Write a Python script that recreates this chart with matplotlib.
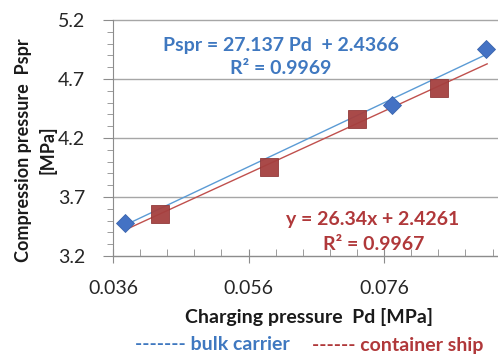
import matplotlib.pyplot as plt
import numpy as np

plt.rcParams['font.family'] = ['Lato', 'DejaVu Sans']

# bulk carrier (blue diamonds)
bulk_pd = np.array([0.0378, 0.0771, 0.0911])
bulk_pspr = np.array([3.477, 4.478, 4.952])

# container ship (red squares)
cont_pd = np.array([0.0429, 0.0590, 0.0720, 0.0841])
cont_pspr = np.array([3.560, 3.954, 4.361, 4.624])

# trendline coefficients from the chart
bulk_fit = (27.137, 2.4366)
cont_fit = (26.34, 2.4261)
trend_range = [0.0378, 0.0912]

x_ticks = [0.036, 0.056, 0.076]
x_minor = np.arange(0.036, 0.0930, 0.004)
y_ticks = [3.2, 3.7, 4.2, 4.7, 5.2]
y_minor = np.arange(3.2, 5.25, 0.1)

blue = '#4472c4'
blue_line = '#5b9bd5'
blue_text = '#3f78c0'
red = '#a5403f'
red_line = '#c0504d'
red_text = '#b0383a'

fig = plt.figure(figsize=(4.98, 3.54), dpi=100)
ax = fig.add_axes([0.2269, 0.2768, 0.7731, 0.6667])

xs = np.array(trend_range)
ax.plot(xs, bulk_fit[0] * xs + bulk_fit[1], color=blue_line, lw=1.0, zorder=2)
ax.plot(xs, cont_fit[0] * xs + cont_fit[1], color=red_line, lw=1.0, zorder=2)

ax.plot(bulk_pd, bulk_pspr, 'D', color=blue, markersize=9.5, markeredgecolor='#3a64ad',
        markeredgewidth=0.6, zorder=3)
ax.plot(cont_pd, cont_pspr, 's', color=red, markersize=13, markeredgecolor='#8e3534',
        markeredgewidth=0.6, alpha=0.95, zorder=3)

ax.set_xlim(0.036, 0.0928)
ax.set_ylim(3.2, 5.2)
ax.set_xticks(x_ticks)
ax.set_xticklabels([f'{v:.3f}' for v in x_ticks])
ax.set_xticks(x_minor, minor=True)
ax.set_yticks(y_ticks)
ax.set_yticklabels([f'{v:.1f}' for v in y_ticks])
ax.set_yticks(y_minor, minor=True)

ax.grid(axis='y', which='major', color='#a6a6a6', lw=1.0)
ax.set_axisbelow(True)
for s in ['top', 'right']:
    ax.spines[s].set_visible(False)
for s in ['left', 'bottom']:
    ax.spines[s].set_color('#8c8c8c')
for gl in ax.get_ygridlines():
    gl.set_clip_on(False)

ax.tick_params(axis='x', which='major', direction='inout', length=10, color='#8c8c8c',
               labelsize=14, pad=12, labelcolor='#262626')
ax.tick_params(axis='x', which='minor', direction='in', length=5, color='#8c8c8c')
ax.tick_params(axis='y', which='major', direction='out', length=7, color='#8c8c8c',
               labelsize=14, pad=13, labelcolor='#262626')
ax.tick_params(axis='y', which='minor', direction='out', length=4, color='#8c8c8c')

fig.text(309 / 498, 1 - 317 / 354, 'Charging pressure  Pd [MPa]', ha='center', va='center',
         fontsize=14, fontweight='bold', color='#1a1a1a')
fig.text(36 / 498, 1 - 150 / 354, 'Compression pressure  Pspr\n[MPa]', ha='center',
         va='center', rotation=90, fontsize=13, fontweight='bold', color='#1a1a1a',
         linespacing=1.45)

fig.text(281 / 498, 1 - 45 / 354, 'Pspr = 27.137 Pd  + 2.4366', ha='center', va='center',
         fontsize=14, fontweight='bold', color=blue_text)
fig.text(281 / 498, 1 - 68 / 354, 'R² = 0.9969', ha='center', va='center',
         fontsize=14, fontweight='bold', color=blue_text)
fig.text(373 / 498, 1 - 219 / 354, 'y = 26.34x + 2.4261', ha='center', va='center',
         fontsize=14, fontweight='bold', color=red_text)
fig.text(374 / 498, 1 - 245 / 354, 'R² = 0.9967', ha='center', va='center',
         fontsize=14, fontweight='bold', color=red_text)

fig.text(135 / 498, 1 - 345 / 354, '------- bulk carrier', ha='left', va='center',
         fontsize=14, fontweight='bold', color=blue_text)
fig.text(483 / 498, 1 - 345 / 354, '------ container ship', ha='right', va='center',
         fontsize=14, fontweight='bold', color=red_text)

fig.savefig('out.png', dpi=100)
